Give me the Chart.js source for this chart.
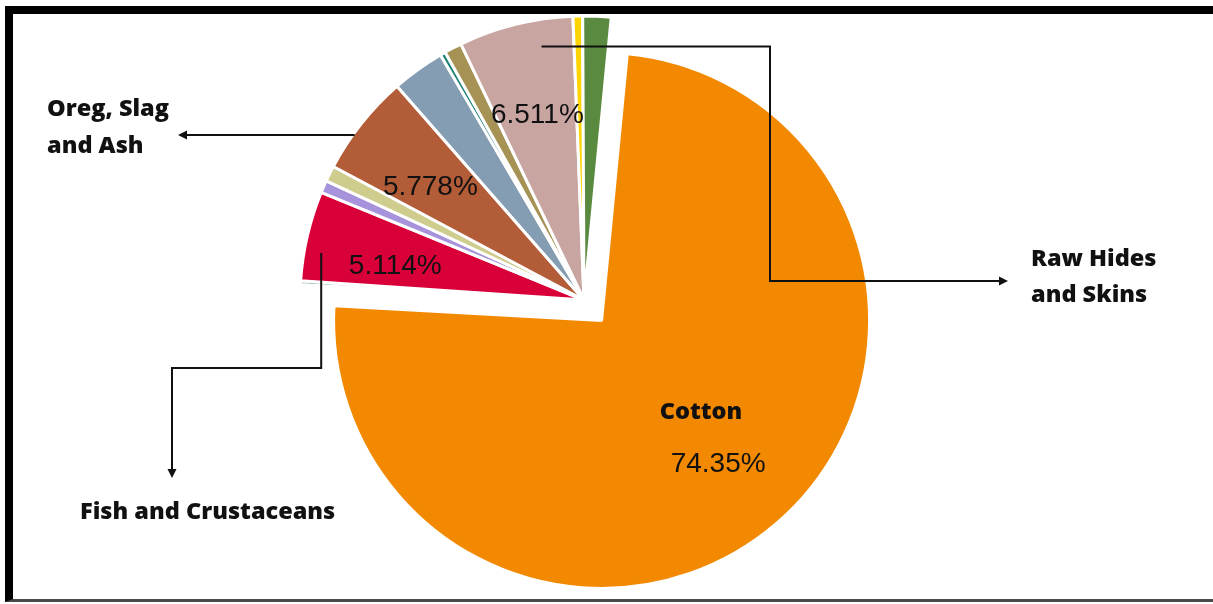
<!DOCTYPE html>
<html>
<head>
<meta charset="utf-8">
<script src="https://cdn.jsdelivr.net/npm/chart.js@4.4.1/dist/chart.umd.min.js"></script>
<style>
  html, body { margin: 0; padding: 0; background: #fff; }
  #wrap { position: relative; width: 1213px; height: 604px; overflow: hidden; }
  #c { position: absolute; left: 0; top: 0; }
  #frame {
    position: absolute; left: 5px; top: 6px; right: 0; height: 585px;
    border-top: 8px solid #000; border-left: 8px solid #000; border-bottom: 3px solid #4a4a4a;
    pointer-events: none;
  }
</style>
</head>
<body>
<div id="wrap">
  <canvas id="c" width="1213" height="604"></canvas>
  <div id="frame"></div>
</div>
<script>
// Commodity groups, clockwise from the exploded Cotton slice (multi-line names are arrays)
const categories = [
  ['Cotton'],
  ['Other 1'],
  ['Fish and Crustaceans'],
  ['Other 2'],
  ['Other 3'],
  ['Oreg, Slag', 'and Ash'],
  ['Other 4'],
  ['Other 5'],
  ['Other 6'],
  ['Raw Hides', 'and Skins'],
  ['Other 7'],
  ['Other 8']
];

// Share of total, in percent
const shares = [74.35, 0.2, 5.114, 0.7, 0.9, 5.778, 3.0, 0.3, 1.0, 6.511, 0.55, 1.6];

const sliceColors = [
  '#F28900', '#6FA392', '#D9003A', '#A693DB', '#CFCD8E', '#B25C38',
  '#849DB3', '#1E8278', '#A69255', '#C9A5A2', '#FFD400', '#5A8A3F'
];

// Slices that carry a percentage label, with placement inside the slice
// (t = fraction along the slice's sweep, r = fraction of its radius)
const valueLabels = [
  { slice: 0, t: 0.506, r: 0.69 },
  { slice: 2, t: 0.34, r: 0.675 },
  { slice: 5, t: 0.39, r: 0.67 },
  { slice: 9, t: 0.49, r: 0.67 }
];

// Exploded slice: pulled out along its mid-angle and drawn a little smaller
const PIE_RADIUS = 284;
const EXPLODE = { slice: 0, distance: 27, radius: 268 };

// Name label inside the exploded slice
const INNER_NAME = { slice: 0, t: 0.476, r: 0.506 };

// Call-outs: start point inside a slice, then elbow route to an arrow tip, then the name
const callouts = [
  { slice: 9, t: 0.69, r: 0.905, route: [['x', 770], ['y', 281], ['x', 1008]],
    textX: 1031, baselines: [266, 302] },
  { slice: 5, t: 0.37, r: 0.995, route: [['x', 178]],
    textX: 47, baselines: [116, 153] },
  { slice: 2, t: 0.34, r: 0.94, route: [['y', 368], ['x', 172], ['y', 478]],
    textX: 80, baselines: [519] }
];

const INK = '#111111';
const PCT_FONT = '28px "Liberation Sans", Arial, sans-serif';
const NAME_FONT = '800 23.5px "Open Sans", Lato, sans-serif';

function pointOn(arc, t, rf) {
  const a = arc.startAngle + (arc.endAngle - arc.startAngle) * t;
  const r = arc.outerRadius * rf;
  return { x: arc.x + Math.cos(a) * r, y: arc.y + Math.sin(a) * r };
}

function fmtPct(v) {
  return Number(v).toPrecision(4) + '%';
}

const explodePlugin = {
  id: 'explodeSlice',
  afterDatasetsUpdate(chart) {
    const arc = chart.getDatasetMeta(0).data[EXPLODE.slice];
    if (!arc) return;
    const mid = (arc.startAngle + arc.endAngle) / 2;
    arc.x += Math.cos(mid) * EXPLODE.distance;
    arc.y += Math.sin(mid) * EXPLODE.distance;
    arc.outerRadius = EXPLODE.radius;
  }
};

function drawArrowHead(ctx, tip, dir) {
  const len = 9, half = 4.5;
  const px = -dir.y, py = dir.x;
  ctx.beginPath();
  ctx.moveTo(tip.x, tip.y);
  ctx.lineTo(tip.x - dir.x * len + px * half, tip.y - dir.y * len + py * half);
  ctx.lineTo(tip.x - dir.x * len - px * half, tip.y - dir.y * len - py * half);
  ctx.closePath();
  ctx.fill();
}

const annotatePlugin = {
  id: 'sliceAnnotations',
  afterDatasetsDraw(chart) {
    const ctx = chart.ctx;
    const arcs = chart.getDatasetMeta(0).data;
    const data = chart.data.datasets[0].data;
    const labels = chart.data.labels;
    ctx.save();
    ctx.fillStyle = INK;
    ctx.strokeStyle = INK;

    // percentage labels
    ctx.font = PCT_FONT;
    ctx.textAlign = 'center';
    ctx.textBaseline = 'middle';
    valueLabels.forEach(v => {
      const p = pointOn(arcs[v.slice], v.t, v.r);
      ctx.fillText(fmtPct(data[v.slice]), p.x, p.y);
    });

    // name inside the exploded slice
    ctx.font = NAME_FONT;
    const np = pointOn(arcs[INNER_NAME.slice], INNER_NAME.t, INNER_NAME.r);
    ctx.fillText(labels[INNER_NAME.slice].join(' '), np.x, np.y);

    // call-outs
    ctx.lineWidth = 2;
    ctx.lineCap = 'butt';
    ctx.lineJoin = 'miter';
    callouts.forEach(c => {
      const start = pointOn(arcs[c.slice], c.t, c.r);
      const pts = [start];
      let cur = { x: start.x, y: start.y };
      c.route.forEach(([axis, val]) => {
        cur = axis === 'x' ? { x: val, y: cur.y } : { x: cur.x, y: val };
        pts.push(cur);
      });
      const tip = pts[pts.length - 1];
      const prev = pts[pts.length - 2];
      const dx = tip.x - prev.x, dy = tip.y - prev.y;
      const L = Math.hypot(dx, dy) || 1;
      const dir = { x: dx / L, y: dy / L };
      ctx.beginPath();
      ctx.moveTo(pts[0].x, pts[0].y);
      for (let i = 1; i < pts.length - 1; i++) ctx.lineTo(pts[i].x, pts[i].y);
      ctx.lineTo(tip.x - dir.x * 6, tip.y - dir.y * 6);
      ctx.stroke();
      drawArrowHead(ctx, tip, dir);

      ctx.font = NAME_FONT;
      ctx.textAlign = 'left';
      ctx.textBaseline = 'alphabetic';
      labels[c.slice].forEach((line, i) => ctx.fillText(line, c.textX, c.baselines[i]));
    });
    ctx.restore();
  }
};

function build() {
  new Chart(document.getElementById('c'), {
    type: 'pie',
    data: {
      labels: categories,
      datasets: [{
        data: shares,
        backgroundColor: sliceColors,
        borderColor: '#ffffff',
        borderWidth: 3
      }]
    },
    options: {
      responsive: false,
      maintainAspectRatio: false,
      animation: false,
      events: [],
      rotation: 5.5,
      radius: PIE_RADIUS,
      layout: { padding: { left: 0, right: 45, top: 0, bottom: 4 } },
      plugins: {
        legend: { display: false },
        tooltip: { enabled: false }
      }
    },
    plugins: [explodePlugin, annotatePlugin]
  });
}

Promise.all([
  document.fonts.load('800 23.5px "Open Sans"'),
  document.fonts.load('28px "Liberation Sans"')
]).then(build, build);
</script>
</body>
</html>
